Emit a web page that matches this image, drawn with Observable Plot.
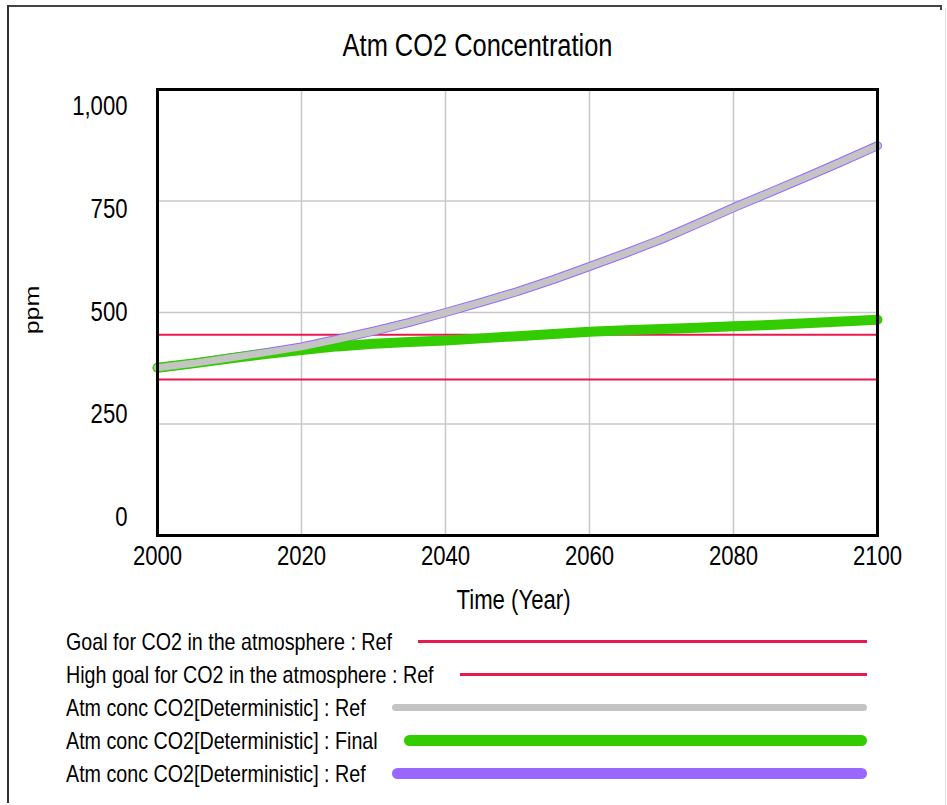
<!DOCTYPE html>
<html>
<head>
<meta charset="utf-8">
<script src="https://cdn.jsdelivr.net/npm/d3@7"></script>
<script src="https://cdn.jsdelivr.net/npm/@observablehq/plot@0.6"></script>
<style>
  html, body { margin: 0; padding: 0; background: #fff; }
  #page { position: relative; width: 947px; height: 805px; overflow: hidden; background: #fff;
          font-family: "Liberation Sans", Arial, sans-serif; color: #000; }
  #border-top { position: absolute; left: 8px; top: 5px; width: 934px; height: 2px; background: #444; }
  #border-left { position: absolute; left: 7px; top: 5px; width: 2px; height: 798px; background: #333; }
  #border-right { position: absolute; left: 945px; top: 8px; width: 1px; height: 797px; background: #ddd; }
  #border-tick { position: absolute; left: 940px; top: 5px; width: 2px; height: 5px; background: #444; }
  #chart { position: absolute; left: 0; top: 0; }
  .squeeze { display: inline-block; transform: scaleX(0.82); transform-origin: 50% 50%; white-space: nowrap; }
  #title { position: absolute; left: 0; width: 955px; top: 26px; text-align: center; font-size: 31px; line-height: 40px; }
  #xlabel { position: absolute; left: 0; width: 1027px; top: 584px; text-align: center; font-size: 27px; line-height: 32px; }
  #ylabel { position: absolute; left: 32px; top: 310px; font-size: 25px; line-height: 25px;
            transform: translate(-50%, -50%) rotate(-90deg) scaleY(0.8); white-space: nowrap; }
  #legend { position: absolute; left: 66px; top: 625px; width: 801px; }
  .row { display: flex; align-items: center; height: 33px; }
  .row span { font-size: 24px; white-space: nowrap; line-height: 33px; display: inline-block;
              transform: scaleX(0.82); transform-origin: 0 50%; }
  .row .sw { flex: 1; margin-left: 26px; }
</style>
</head>
<body>
<div id="page">
  <div id="border-top"></div>
  <div id="border-left"></div>
  <div id="border-right"></div>
  <div id="border-tick"></div>
  <div id="chart"></div>
  <div id="title"><span class="squeeze" id="titleText"></span></div>
  <div id="xlabel"><span class="squeeze" id="xlabelText"></span></div>
  <div id="ylabel"></div>
  <div id="legend"></div>
</div>
<script>
// ---- data ----
const titleText = "Atm CO2 Concentration";
const xLabelText = "Time (Year)";
const yLabelText = "ppm";
const years = [2000, 2005, 2010, 2015, 2020, 2025, 2030, 2035, 2040, 2045, 2050, 2055, 2060, 2065, 2070, 2075, 2080, 2085, 2090, 2095, 2100];
const refValues = [376, 386, 398, 410, 423, 440, 458, 478, 500, 523, 547, 574, 603, 633, 664, 699, 735, 769, 803, 838, 874];
const finalValues = [376, 386, 397, 407, 416, 424, 430, 434, 437, 442, 447, 452, 457, 460, 463, 466, 469, 472, 476, 480, 484];
const goalValue = 350;
const highGoalValue = 450;
const xTicks = [2000, 2020, 2040, 2060, 2080, 2100];
const yTicks = [0, 250, 500, 750, 1000];
const gridXValues = [2020, 2040, 2060, 2080];
const gridYValues = [250, 500, 750];
const legendLabels = [
  "Goal for CO2 in the atmosphere : Ref",
  "High goal for CO2 in the atmosphere : Ref",
  "Atm conc CO2[Deterministic] : Ref",
  "Atm conc CO2[Deterministic] : Final",
  "Atm conc CO2[Deterministic] : Ref"
];

// ---- styles ----
const RED = "#e8194f", GRAY = "#c4c4c4", GREEN = "#33cc00", PURPLE = "#9966ff";
const SQUEEZE = 0.82;
const legendStyles = [
  {color: RED, h: 2.5, r: 0},
  {color: RED, h: 2.5, r: 0},
  {color: GRAY, h: 7, r: 4},
  {color: GREEN, h: 11, r: 6},
  {color: PURPLE, h: 11, r: 6}
];

const refData = years.map((x, i) => ({x, y: refValues[i]}));
const finalData = years.map((x, i) => ({x, y: finalValues[i]}));

const chart = Plot.plot({
  width: 947,
  height: 620,
  marginLeft: 157,
  marginRight: 70,
  marginTop: 89,
  marginBottom: 85,
  style: {
    fontFamily: '"Liberation Sans", Arial, sans-serif',
    fontSize: "27px",
    color: "#000",
    background: "transparent",
    overflow: "visible"
  },
  x: {domain: [2000, 2100]},
  y: {domain: [0, 1000]},
  marks: [
    Plot.gridX(gridXValues, {stroke: "#c8c8c8", strokeOpacity: 1, strokeWidth: 1.5}),
    Plot.gridY(gridYValues, {stroke: "#c8c8c8", strokeOpacity: 1, strokeWidth: 1.5}),
    Plot.ruleY([goalValue], {stroke: RED, strokeWidth: 2}),
    Plot.ruleY([highGoalValue], {stroke: RED, strokeWidth: 2}),
    Plot.line(refData, {x: "x", y: "y", stroke: PURPLE, strokeWidth: 9, strokeLinecap: "round", strokeLinejoin: "round"}),
    Plot.line(finalData, {x: "x", y: "y", stroke: GREEN, strokeWidth: 10, strokeLinecap: "round", strokeLinejoin: "round"}),
    Plot.line(refData, {x: "x", y: "y", stroke: GRAY, strokeWidth: 7, strokeLinecap: "round", strokeLinejoin: "round"}),
    Plot.frame({stroke: "#000", strokeWidth: 3}),
    Plot.axisX(xTicks, {tickSize: 0, tickPadding: 10, tickFormat: d => String(d), label: null}),
    Plot.axisY(yTicks, {tickSize: 0, tickPadding: 30, tickFormat: d3.format(","), label: null})
  ]
});
document.getElementById("chart").appendChild(chart);

// Narrow (condensed) tick labels, and Vensim-style y labels spread slightly inside the frame
(function adjustLabels() {
  const ys = chart.scale("y");
  const top = ys.range[1], bottom = ys.range[0];
  const newTop = top + 17, newBottom = bottom - 18;
  chart.querySelectorAll('[aria-label="y-axis tick label"] text').forEach(t => {
    const m = /translate\(([-\d.]+),\s*([-\d.]+)\)/.exec(t.getAttribute("transform") || "");
    if (!m) return;
    const gy = +m[2];
    const ny = newTop + (gy - top) * (newBottom - newTop) / (bottom - top);
    t.setAttribute("transform", `translate(${m[1]},${ny}) scale(${SQUEEZE},1)`);
  });
  chart.querySelectorAll('[aria-label="x-axis tick label"] text').forEach(t => {
    const tr = t.getAttribute("transform") || "";
    t.setAttribute("transform", `${tr} scale(${SQUEEZE},1)`);
  });
})();

document.getElementById("titleText").textContent = titleText;
document.getElementById("xlabelText").textContent = xLabelText;
document.getElementById("ylabel").textContent = yLabelText;

const legend = document.getElementById("legend");
legendLabels.forEach((label, i) => {
  const row = document.createElement("div");
  row.className = "row";
  const span = document.createElement("span");
  span.textContent = label;
  const sw = document.createElement("div");
  sw.className = "sw";
  sw.style.height = legendStyles[i].h + "px";
  sw.style.background = legendStyles[i].color;
  sw.style.borderRadius = legendStyles[i].r + "px";
  row.appendChild(span);
  row.appendChild(sw);
  legend.appendChild(row);
  const w = span.getBoundingClientRect().width / SQUEEZE;
  span.style.marginRight = (-(w * (1 - SQUEEZE))) + "px";
});
</script>
</body>
</html>
